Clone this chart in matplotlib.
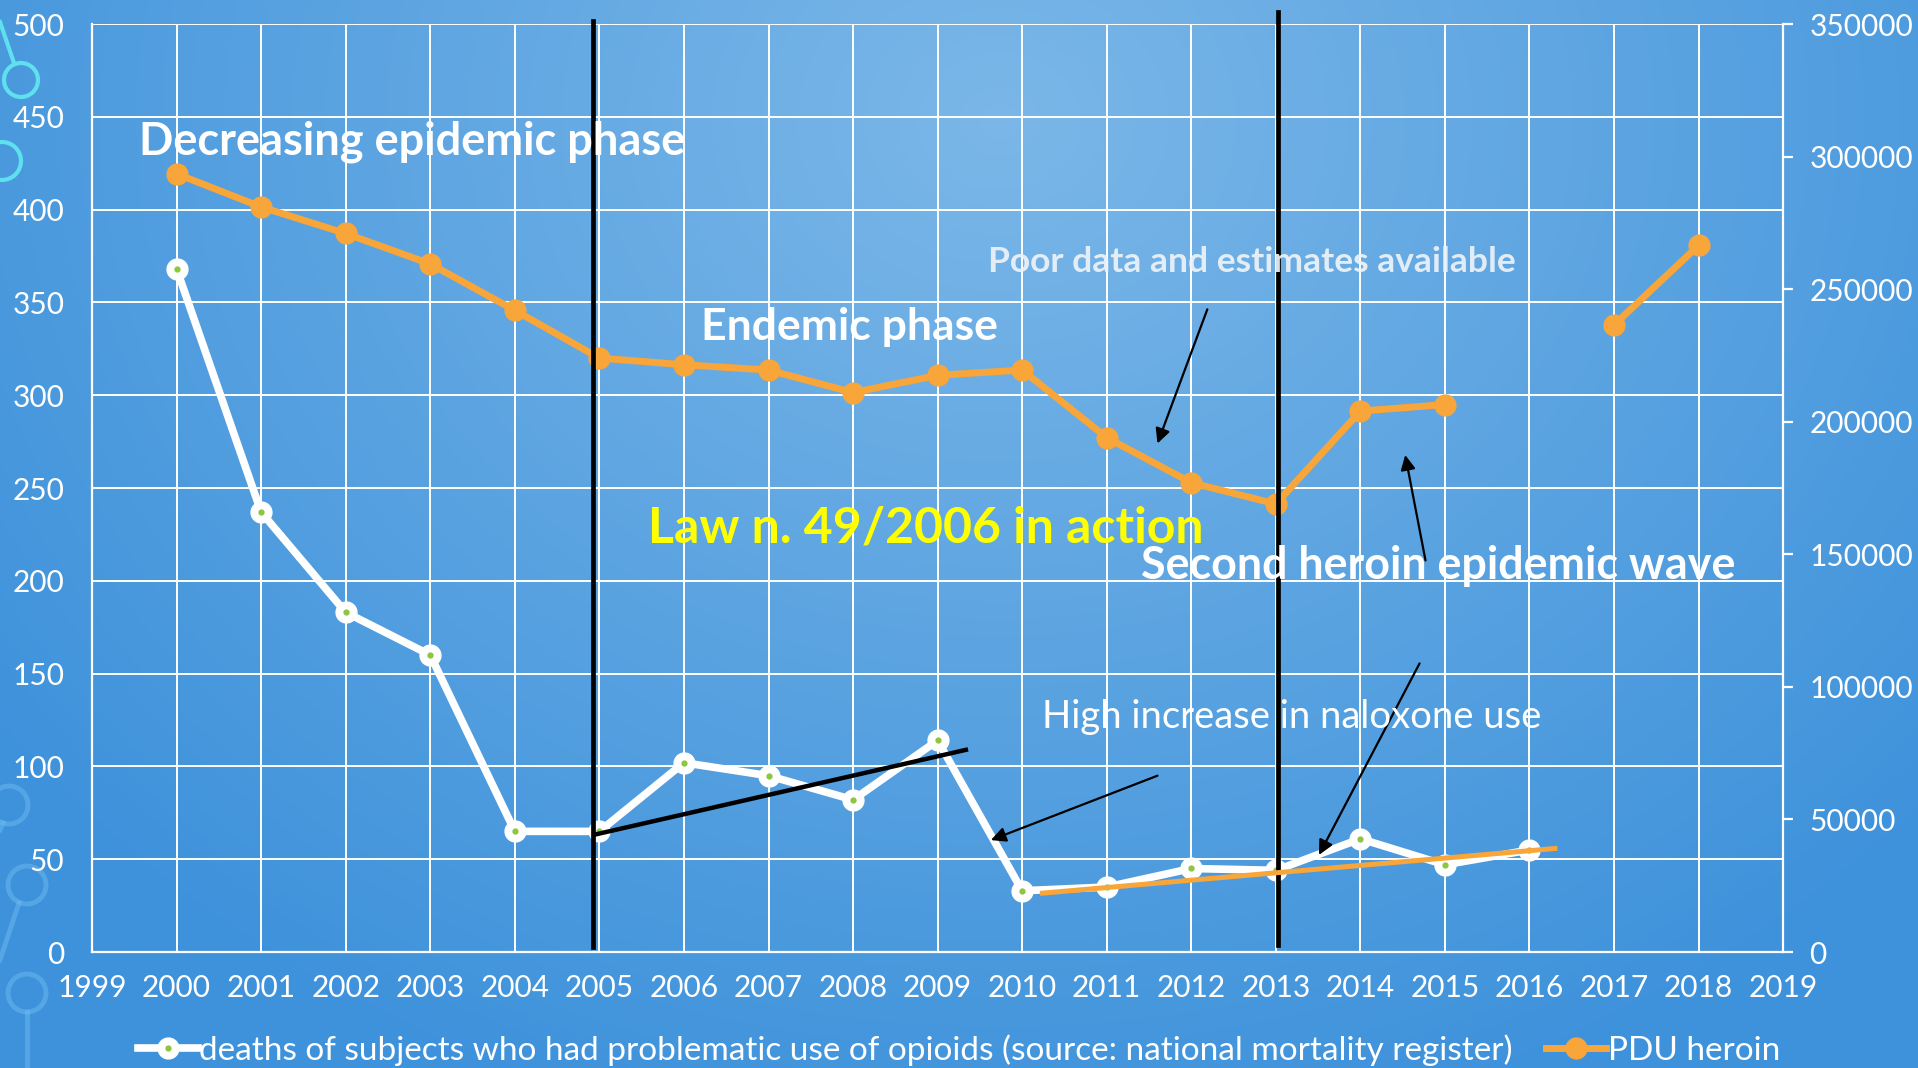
import numpy as np
import matplotlib.pyplot as plt
from matplotlib.legend_handler import HandlerTuple
from matplotlib.patches import Circle

plt.rcParams['font.family'] = ['Lato', 'DejaVu Sans']

# deaths (left axis) and PDU heroin estimates (right axis)
death_years = list(range(2000, 2017))
deaths = [368, 237, 183, 160, 65, 65, 102, 95, 82, 114, 33, 35, 45, 44, 61, 47, 55]

pdu_years = list(range(2000, 2019))
pdu_heroin = [293500, 281000, 271000, 259500, 242000, 224000, 221500, 219500, 211000,
              217500, 219500, 194000, 177000, 169000, 204000, 206500, np.nan, 236500, 266500]

x_ticks = list(range(1999, 2020))
left_ticks = list(range(0, 501, 50))
right_ticks = list(range(0, 350001, 50000))

# phase boundaries and trend segments (left-axis units)
phase_lines = [(2004.93, 2.5, 501.8), (2013.03, 3.8, 506.6)]
trend_2005 = ([2004.92, 2009.36], [63, 109.2])
trend_2010 = ([2010.21, 2016.33], [31.6, 55.9])

arrows = [  # (start, tip)
    ((2012.19, 346.3), (2011.6, 274.0)),
    ((2014.77, 211.0), (2014.53, 267.8)),
    ((2011.6, 95.0), (2009.63, 60.3)),
    ((2014.70, 155.5), (2013.51, 52.3)),
]

WHITE = '#ffffff'
ORANGE = '#f8a53a'
GREEN = '#8dc63f'
TICK_SIZE = 21.5

fig = plt.figure(figsize=(19.18, 10.68), dpi=100)

# slide background with soft radial light
bg = fig.add_axes([0, 0, 1, 1], zorder=-10)
bg.set_xlim(0, 1918)
bg.set_ylim(1068, 0)
bg.axis('off')
gx, gy = np.meshgrid(np.linspace(0, 1918, 480), np.linspace(0, 1068, 267))
t = np.clip(np.sqrt(((gx - 1000) / 1250) ** 2 + ((gy - 120) / 1050) ** 2), 0, 1)
c0 = np.array([0x7b, 0xb7, 0xe8]) / 255
c1 = np.array([0x3e, 0x92, 0xdb]) / 255
img = c0[None, None, :] * (1 - t[..., None]) + c1[None, None, :] * t[..., None]
bg.imshow(img, extent=[0, 1918, 1068, 0], aspect='auto', interpolation='bilinear')

# template decorations on the left edge
cyan = '#5fe0ef'
bg.plot([0, 14], [22, 63], color=cyan, lw=3)
bg.add_patch(Circle((21, 80), 17, fill=False, ec=cyan, lw=3))
bg.add_patch(Circle((2, 161), 19, fill=False, ec=cyan, lw=3))
faint = (0.45, 0.75, 0.95, 0.45)
bg.add_patch(Circle((9, 805), 19, fill=False, ec=faint, lw=3.5))
bg.plot([0, 3], [830, 823], color=faint, lw=3.5)
bg.add_patch(Circle((27, 885), 19, fill=False, ec=faint, lw=3.5))
bg.plot([19, 0], [903, 960], color=faint, lw=3.5)
bg.add_patch(Circle((27, 993), 19, fill=False, ec=faint, lw=3.5))
bg.plot([27, 27], [1012, 1068], color=faint, lw=3.5)

ax = fig.add_axes([0.048, 0.1086, 0.8817, 0.8689])
ax.patch.set_visible(False)
ax2 = ax.twinx()
ax2.patch.set_visible(False)

# deaths series: white line, white markers with green centre
l_deaths, = ax.plot(death_years, deaths, color=WHITE, lw=5.5, marker='o', ms=15,
                    mfc=WHITE, mec=WHITE, zorder=3)
l_dots, = ax.plot(death_years, deaths, ls='none', marker='o', ms=3.5,
                  mfc=GREEN, mec=GREEN, zorder=4)

l_pdu, = ax2.plot(pdu_years, pdu_heroin, color=ORANGE, lw=5, marker='o', ms=15,
                  mfc=ORANGE, mec=ORANGE, zorder=3)

ax.set_xlim(1999, 2019)
ax.set_ylim(0, 500)
ax2.set_ylim(0, 350000)
ax.set_xticks(x_ticks)
ax.set_yticks(left_ticks)
ax2.set_yticks(right_ticks)

ax.grid(True, color=WHITE, lw=1.4)
ax.set_axisbelow(True)
for sp in ['left', 'bottom']:
    ax.spines[sp].set_color(WHITE)
    ax.spines[sp].set_linewidth(1.6)
for sp in ['top', 'right']:
    ax.spines[sp].set_visible(False)
for sp in ['top', 'left', 'bottom']:
    ax2.spines[sp].set_visible(False)
ax2.spines['right'].set_color(WHITE)
ax2.spines['right'].set_linewidth(1.6)

ax.tick_params(axis='x', length=0, pad=16, labelsize=TICK_SIZE, labelcolor=WHITE)
ax.tick_params(axis='y', length=0, pad=20, labelsize=TICK_SIZE, labelcolor=WHITE)
ax2.tick_params(axis='y', length=7, width=1.6, color=WHITE, pad=12,
                labelsize=TICK_SIZE, labelcolor=WHITE)

# overlays in left-axis units, drawn above both series
tr = ax.transData
for x, y0, y1 in phase_lines:
    ax2.plot([x, x], [y0, y1], color='black', lw=3.4, transform=tr, clip_on=False, zorder=6)
ax2.plot(*trend_2005, color='black', lw=3.2, transform=tr, zorder=6, solid_capstyle='butt')
ax2.plot(*trend_2010, color=ORANGE, lw=3.6, transform=tr, zorder=6, solid_capstyle='butt')
for (sx, sy), (ex, ey) in arrows:
    ax2.annotate('', xy=(ex, ey), xytext=(sx, sy), xycoords=tr, textcoords=tr,
                 arrowprops=dict(arrowstyle='-|>', color='black', lw=1.6,
                                 mutation_scale=22, shrinkA=0, shrinkB=0), zorder=7)

def label(x, y, s, size, color=WHITE, weight='bold', alpha=1.0):
    ax2.text(x, y, s, transform=tr, fontsize=size, color=color, fontweight=weight,
             va='baseline', ha='left', alpha=alpha, zorder=8)

label(1999.55, 429.9, 'Decreasing epidemic phase', 32.5)
label(2006.2, 329.7, 'Endemic phase', 32)
label(2009.6, 366.5, 'Poor data and estimates available', 25.5, color='#eef3f8', alpha=0.92)
label(2005.58, 220.9, 'Law n. 49/2006 in action', 36, color='#ffff00')
label(2011.4, 201.2, 'Second heroin epidemic wave', 32.3)
label(2010.23, 120.9, 'High increase in naloxone use', 27.5, weight='normal')

leg = fig.legend([(l_deaths, l_dots), l_pdu],
                 ['deaths of subjects who had problematic use of opioids (source: national mortality register)',
                  'PDU heroin'],
                 handler_map={tuple: HandlerTuple(ndivide=1, pad=0)},
                 loc='center', bbox_to_anchor=(0.50, 0.017), ncol=2, frameon=False,
                 fontsize=24, labelcolor=WHITE, handlelength=1.8, handletextpad=0.05,
                 columnspacing=1.0, borderaxespad=0)

fig.savefig('out.png', dpi=100)
